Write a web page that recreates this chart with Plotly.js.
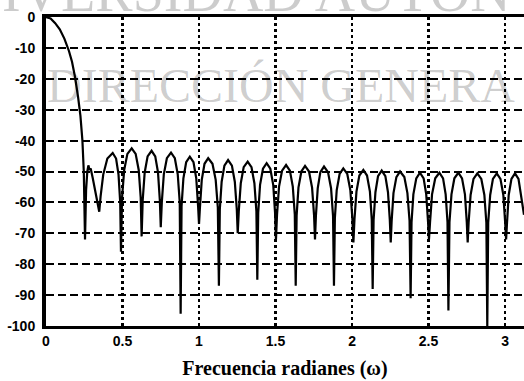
<!DOCTYPE html>
<html>
<head>
<meta charset="utf-8">
<script src="https://cdn.plot.ly/plotly-3.0.1.min.js"></script>
<style>html,body{margin:0;padding:0;background:#fff;}#chart{width:524px;height:381px;}</style>
</head>
<body>
<div id="chart"></div>
<script>
// Frequency (rad) and magnitude (dB)
const freq = [
0, 0.03, 0.06, 0.09, 0.12, 0.15, 0.17, 0.19, 0.21, 0.225, 0.238, 0.247, 0.255,
0.262, 0.27, 0.277, 0.285, 0.292, 0.305, 0.32, 0.335, 0.348,
0.357, 0.374, 0.401, 0.436, 0.458, 0.474, 0.485, 0.49,
0.497, 0.511, 0.532, 0.56, 0.586, 0.606, 0.619, 0.625,
0.632, 0.645, 0.664, 0.69, 0.714, 0.732, 0.744, 0.75,
0.757, 0.77, 0.79, 0.817, 0.842, 0.861, 0.874, 0.88,
0.886, 0.898, 0.916, 0.94, 0.964, 0.982, 0.994, 1.0,
1.006, 1.018, 1.036, 1.06, 1.088, 1.109, 1.123, 1.13,
1.136, 1.148, 1.166, 1.19, 1.215, 1.234, 1.247, 1.253,
1.26, 1.273, 1.292, 1.318, 1.343, 1.362, 1.375, 1.381,
1.387, 1.399, 1.418, 1.442, 1.466, 1.485, 1.497, 1.503,
1.51, 1.523, 1.543, 1.569, 1.594, 1.613, 1.626, 1.632,
1.638, 1.65, 1.669, 1.693, 1.719, 1.739, 1.752, 1.758,
1.764, 1.776, 1.793, 1.817, 1.843, 1.863, 1.876, 1.882,
1.888, 1.9, 1.919, 1.943, 1.969, 1.989, 2.002, 2.009,
2.016, 2.029, 2.048, 2.074, 2.098, 2.117, 2.129, 2.135,
2.141, 2.153, 2.17, 2.194, 2.218, 2.235, 2.247, 2.253,
2.259, 2.271, 2.29, 2.314, 2.342, 2.362, 2.376, 2.383,
2.389, 2.401, 2.42, 2.444, 2.468, 2.485, 2.497, 2.503,
2.51, 2.523, 2.544, 2.571, 2.595, 2.612, 2.624, 2.63,
2.637, 2.65, 2.669, 2.695, 2.719, 2.738, 2.75, 2.756,
2.762, 2.775, 2.794, 2.819, 2.845, 2.865, 2.878, 2.884,
2.89, 2.903, 2.921, 2.946, 2.97, 2.989, 3.001, 3.007,
3.013, 3.024, 3.042, 3.065, 3.088, 3.106, 3.124];

const magDb = [
0, -0.5, -2, -4, -7, -11, -14.5, -19.5, -26, -32, -40, -50, -72,
-56, -50, -48, -49.5, -49, -52, -56, -60, -63,
-58, -51, -45.8, -44, -45.8, -51, -60, -76,
-58.5, -49.5, -44.3, -42.5, -44.3, -49.5, -58.5, -71,
-59.3, -50.3, -45.1, -43.3, -45.1, -50.3, -59.3, -68,
-59.9, -50.9, -45.7, -43.9, -45.7, -50.9, -59.9, -96,
-61.2, -52.2, -47, -45.2, -47, -52.2, -61.2, -67,
-61.7, -52.7, -47.5, -45.7, -47.5, -52.7, -61.7, -87,
-62.3, -53.3, -48.1, -46.3, -48.1, -53.3, -62.3, -70,
-62.8, -53.8, -48.6, -46.8, -48.6, -53.8, -62.8, -85,
-63.3, -54.3, -49.1, -47.3, -49.1, -54.3, -63.3, -72,
-63.9, -54.9, -49.7, -47.9, -49.7, -54.9, -63.9, -87,
-64.2, -55.2, -50, -48.2, -50, -55.2, -64.2, -72,
-64.4, -55.4, -50.2, -48.4, -50.2, -55.4, -64.4, -87,
-65, -56, -50.8, -49, -50.8, -56, -65, -73,
-65.5, -56.5, -51.3, -49.5, -51.3, -56.5, -65.5, -88,
-65.7, -56.7, -51.5, -49.7, -51.5, -56.7, -65.7, -73,
-66, -57, -51.8, -50, -51.8, -57, -66, -91,
-66.4, -57.4, -52.2, -50.4, -52.2, -57.4, -66.4, -72,
-66.4, -57.4, -52.2, -50.4, -52.2, -57.4, -66.4, -95,
-66.4, -57.4, -52.2, -50.4, -52.2, -57.4, -66.4, -73,
-66.6, -57.6, -52.4, -50.6, -52.4, -57.6, -66.6, -100,
-66.6, -57.6, -52.4, -50.6, -52.4, -57.6, -66.6, -72,
-66.6, -57.6, -52.4, -50.6, -52.4, -57.6, -64];

const xTickVals = [0, 0.5, 1, 1.5, 2, 2.5, 3];
const xTickLabels = ["0", "0.5", "1", "1.5", "2", "2.5", "3"];
const yTickVals = [0, -10, -20, -30, -40, -50, -60, -70, -80, -90, -100];
const yTickLabels = ["0", "-10", "-20", "-30", "-40", "-50", "-60", "-70", "-80", "-90", "-100"];
const xTitle = "Frecuencia radianes (\u03c9)";
const watermarkTop = "IVERSIDAD AUTÓN";
const watermarkMid = "DIRECCIÓN GENERA";

const tickFont = {family: "Liberation Sans, Arial, sans-serif", size: 14, color: "#000", weight: "bold"};
const serif = "Liberation Serif, Times New Roman, serif";

const trace = {
  x: freq, y: magDb, type: "scatter", mode: "lines",
  line: {color: "#000", width: 2.2}, hoverinfo: "skip", showlegend: false
};

const layout = {
  width: 524, height: 381,
  margin: {l: 46, r: 0, t: 17, b: 55, pad: 0},
  paper_bgcolor: "#fff", plot_bgcolor: "#fff",
  showlegend: false,
  xaxis: {
    range: [0, 3.124], tickvals: xTickVals, ticktext: xTickLabels,
    showgrid: true, gridcolor: "#000", gridwidth: 2.5, griddash: "3px,3px",
    showline: true, linecolor: "#000", linewidth: 3, mirror: true,
    zeroline: false, ticks: "", tickfont: tickFont, ticklabelstandoff: 0,
    title: {text: xTitle, font: {family: serif, size: 20, color: "#000", weight: "bold"}, standoff: 14},
    automargin: false, fixedrange: true
  },
  yaxis: {
    range: [-100, 0], tickvals: yTickVals, ticktext: yTickLabels,
    showgrid: true, gridcolor: "#000", gridwidth: 2, griddash: "8px,4px",
    showline: true, linecolor: "#000", linewidth: 4, mirror: false,
    zeroline: false, ticks: "", tickfont: tickFont, ticklabelstandoff: 4,
    automargin: false, fixedrange: true
  },
  annotations: [
    {text: watermarkTop, xref: "paper", yref: "paper", x: -0.096, y: 1.081,
     xanchor: "left", yanchor: "middle", showarrow: false,
     font: {family: serif, size: 56, color: "rgba(0,0,0,0.2)"}},
    {text: watermarkMid, xref: "paper", yref: "paper", x: -0.002, y: 0.777,
     xanchor: "left", yanchor: "middle", showarrow: false,
     font: {family: serif, size: 48, color: "rgba(0,0,0,0.2)"}}
  ]
};

Plotly.newPlot("chart", [trace], layout, {staticPlot: true, displayModeBar: false});
</script>
</body>
</html>
